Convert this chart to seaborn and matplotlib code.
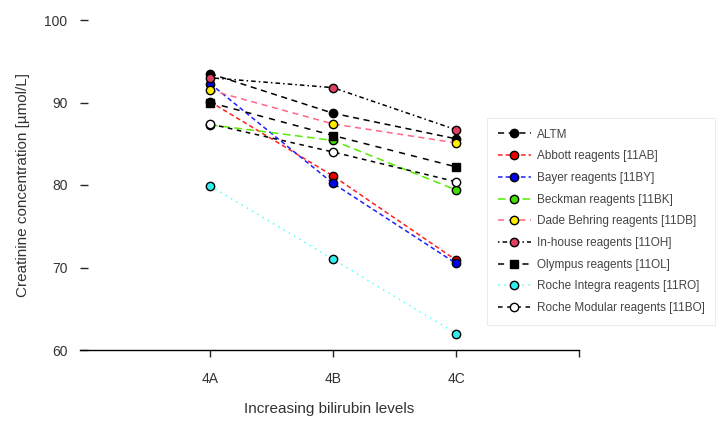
import matplotlib
matplotlib.use("Agg")
import matplotlib.pyplot as plt
import seaborn as sns
import pandas as pd

sns.set_style("white")
plt.rcParams['font.family'] = ['Liberation Sans', 'DejaVu Sans']

levels = ["4A", "4B", "4C"]
series_names = [
    "ALTM",
    "Abbott reagents [11AB]",
    "Bayer reagents [11BY]",
    "Beckman reagents [11BK]",
    "Dade Behring reagents [11DB]",
    "In-house reagents [11OH]",
    "Olympus reagents [11OL]",
    "Roche Integra reagents [11RO]",
    "Roche Modular reagents [11BO]",
]
altm = [93.5, 88.7, 85.6]
abbott = [90.1, 81.1, 70.9]
bayer = [92.3, 80.2, 70.5]
beckman = [87.3, 85.4, 79.4]
dade = [91.5, 87.4, 85.1]
inhouse = [93.0, 91.8, 86.7]
olympus = [90.0, 86.0, 82.2]
roche_integra = [79.9, 71.0, 62.0]
roche_modular = [87.4, 84.0, 80.4]
values = [altm, abbott, bayer, beckman, dade, inhouse, olympus, roche_integra, roche_modular]

styles = [
    dict(color="black", marker="o", mfc="black", dashes=(4, 3)),
    dict(color="#ff2020", marker="o", mfc="#ee0000", dashes=(3, 2)),
    dict(color="#2020ff", marker="o", mfc="#0000ee", dashes=(3, 2)),
    dict(color="#55ee00", marker="o", mfc="#44dd00", dashes=(5, 3)),
    dict(color="#ff6688", marker="o", mfc="#ffee00", dashes=(4, 3)),
    dict(color="black", marker="o", mfc="#e04060", dashes=(1, 2, 3, 2)),
    dict(color="black", marker="s", mfc="black", dashes=(4, 4)),
    dict(color="#55ffff", marker="o", mfc="#33eeee", dashes=(1, 3)),
    dict(color="black", marker="o", mfc="white", dashes=(3, 3)),
]

fig = plt.figure(figsize=(7.17, 4.21), dpi=100)
ax = fig.add_axes([80 / 717, 71 / 421, 499 / 717, 330 / 421])

xpos = [1, 2, 3]
for name, vals, st in zip(series_names, values, styles):
    df = pd.DataFrame({"x": xpos, "y": vals})
    sns.lineplot(data=df, x="x", y="y", ax=ax, color=st["color"], lw=1.1,
                 dashes=False, label=name, legend=False)
    line = ax.lines[-1]
    line.set_dashes(st["dashes"])
    line.set_marker(st["marker"])
    line.set_markersize(6)
    line.set_markerfacecolor(st["mfc"])
    line.set_markeredgecolor("black")
    line.set_markeredgewidth(1.0)

ax.set_xlim(-0.057, 4.0)
ax.set_ylim(60, 100)
ax.set_xticks([1, 2, 3, 4])
ax.set_xticklabels(levels + [""])
ax.xaxis.get_major_ticks()[1].tick1line.set_visible(False)
ax.set_yticks([60, 70, 80, 90, 100])
for s in ["top", "right", "left"]:
    ax.spines[s].set_visible(False)
ax.spines["bottom"].set_color("black")
ax.spines["bottom"].set_linewidth(1.0)
ax.tick_params(axis="y", direction="in", length=6, width=1, pad=9,
               labelsize=10, labelcolor="#333333", left=True)
ax.tick_params(axis="x", direction="out", length=5, width=1, pad=11,
               labelsize=10, labelcolor="#333333", bottom=True)
ax.set_xlabel("Increasing bilirubin levels", fontsize=11, color="#333333", labelpad=11)
ax.set_ylabel("Creatinine concentration [µmol/L]", fontsize=11, color="#333333", labelpad=10)

leg = ax.legend(loc="upper left", bbox_to_anchor=(407 / 499, 232 / 330), fontsize=8.5,
                frameon=True, labelspacing=0.82, handlelength=2.8, handletextpad=0.5,
                borderpad=0.9, fancybox=False, borderaxespad=0)
leg.get_frame().set_edgecolor("#e8e8e8")
leg.get_frame().set_linewidth(0.8)
for t in leg.get_texts():
    t.set_color("#444444")

fig.savefig("out.png", dpi=100)
